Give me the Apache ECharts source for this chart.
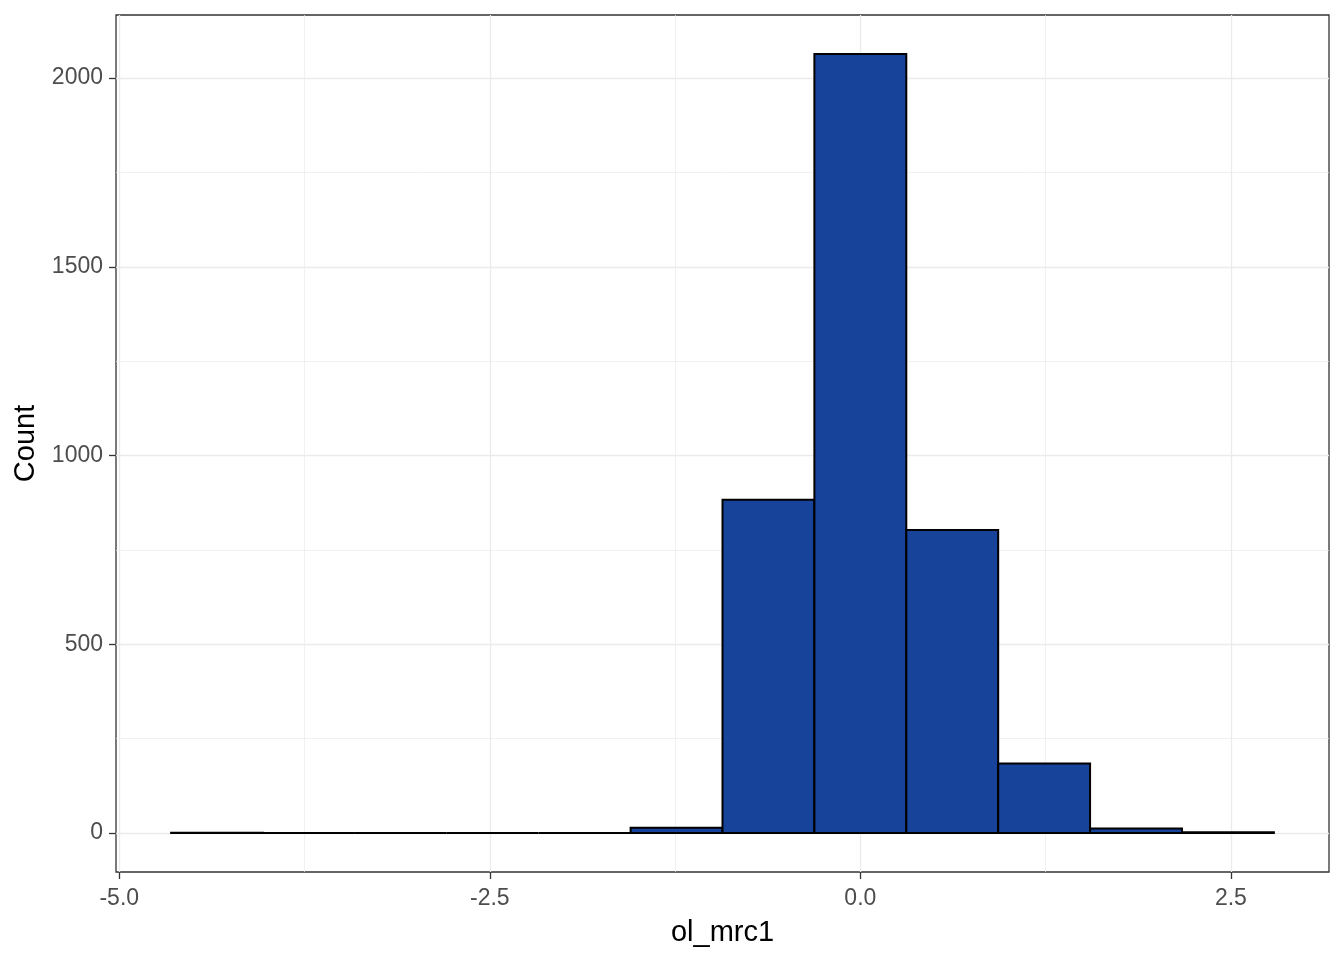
<!DOCTYPE html>
<html>
<head>
<meta charset="utf-8">
<script src="https://cdn.jsdelivr.net/npm/echarts@6/dist/echarts.min.js"></script>
<style>
html,body{margin:0;padding:0;background:#fff;}
#chart{width:1344px;height:960px;}
</style>
</head>
<body>
<div id="chart"></div>
<script>
// ---- data ----
const binEdges = [-4.65, -4.03, -3.41, -2.79, -2.17, -1.55, -0.93, -0.31, 0.31, 0.93, 1.55, 2.17, 2.79];
const binCounts = [1, 0, 0, 0, 0, 14, 883, 2064, 803, 184, 12, 2];
const xTicks = [-5.0, -2.5, 0.0, 2.5];
const xMinorTicks = [-3.75, -1.25, 1.25];
const yTicks = [0, 500, 1000, 1500, 2000];
const yMinorTicks = [250, 750, 1250, 1750];
const xTitle = 'ol_mrc1';
const yTitle = 'Count';

// ggplot-style 5% expansion
const xSpan = binEdges[binEdges.length - 1] - binEdges[0];
const xMin = binEdges[0] - 0.05 * xSpan;
const xMax = binEdges[binEdges.length - 1] + 0.05 * xSpan;
const yTop = Math.max.apply(null, binCounts);
const yMin = -0.05 * yTop;
const yMax = yTop * 1.05;

const histData = binCounts.map((c, i) => [binEdges[i], binEdges[i + 1], c]);

const FONT = "'Liberation Sans', Arial, sans-serif";
const gridCol = '#EBEBEB';

const chart = echarts.init(document.getElementById('chart'), null, {renderer: 'canvas'});
chart.setOption({
  animation: false,
  backgroundColor: '#ffffff',
  grid: {
    left: 116, right: 15, top: 15, bottom: 88,
    show: true, borderColor: '#333333', borderWidth: 1.3, backgroundColor: 'transparent'
  },
  xAxis: [{
    type: 'value', min: xMin, max: xMax, position: 'bottom',
    name: xTitle, nameLocation: 'middle', nameGap: 46,
    nameTextStyle: {fontFamily: FONT, fontSize: 29, color: '#000'},
    axisLine: {show: false, onZero: false},
    axisTick: {show: true, inside: false, length: 7, customValues: xTicks, lineStyle: {color: '#333333', width: 1.3}},
    axisLabel: {show: true, customValues: xTicks, margin: 15, fontFamily: FONT, fontSize: 23, color: '#4D4D4D',
      formatter: v => v.toFixed(1)},
    splitLine: {show: true, lineStyle: {color: gridCol, width: 1.3}}
  }, {
    type: 'value', min: xMin, max: xMax, position: 'top',
    axisLine: {show: false, onZero: false},
    axisTick: {show: false, customValues: xMinorTicks},
    axisLabel: {show: false},
    splitLine: {show: true, lineStyle: {color: gridCol, width: 0.7}}
  }],
  yAxis: [{
    type: 'value', min: yMin, max: yMax, position: 'left',
    name: yTitle, nameLocation: 'middle', nameGap: 69, nameRotate: 90,
    nameTextStyle: {fontFamily: FONT, fontSize: 29, color: '#000'},
    axisLine: {show: false, onZero: false},
    axisTick: {show: true, inside: false, length: 7, customValues: yTicks, lineStyle: {color: '#333333', width: 1.3}},
    axisLabel: {show: true, customValues: yTicks, margin: 13, fontFamily: FONT, fontSize: 23, color: '#4D4D4D',
      padding: [4, 0, 0, 0],
      formatter: v => String(Math.round(v))},
    splitLine: {show: true, lineStyle: {color: gridCol, width: 1.3}}
  }, {
    type: 'value', min: yMin, max: yMax, position: 'right',
    axisLine: {show: false, onZero: false},
    axisTick: {show: false, customValues: yMinorTicks},
    axisLabel: {show: false},
    splitLine: {show: true, lineStyle: {color: gridCol, width: 0.7}}
  }],
  series: [{
    type: 'custom',
    xAxisIndex: 0, yAxisIndex: 0,
    data: histData,
    encode: {x: [0, 1], y: 2},
    renderItem: function (params, api) {
      const p0 = api.coord([api.value(0), 0]);
      const p1 = api.coord([api.value(1), api.value(2)]);
      return {
        type: 'rect',
        shape: {x: p0[0], y: p1[1], width: p1[0] - p0[0], height: p0[1] - p1[1]},
        style: {fill: '#17439B', stroke: '#000000', lineWidth: 2}
      };
    }
  }]
});
</script>
</body>
</html>
